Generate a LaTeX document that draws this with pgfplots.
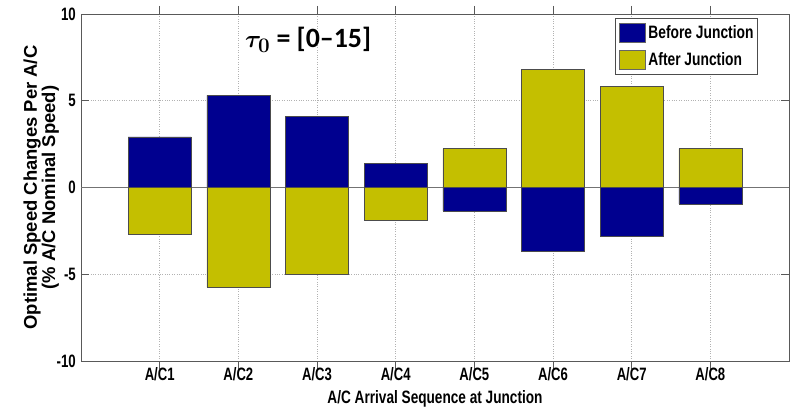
\documentclass[border=0pt]{standalone}
\usepackage{fontspec}
\setmainfont{Liberation Sans}
\newfontfamily\calib{Carlito}
\usepackage{pgfplots}
\pgfplotsset{compat=1.18}
\definecolor{mblue}{rgb}{0,0,0.56}
\definecolor{myell}{rgb}{0.77,0.75,0.0}
\newcommand{\nx}[1]{\scalebox{0.73}[1]{#1}}
\newcommand{\ny}[1]{\scalebox{0.74}[1]{#1}}
\begin{document}
\begin{tikzpicture}
\useasboundingbox (0,0) rectangle (797bp,407bp);
\begin{axis}[
  at={(81bp,46bp)}, anchor=south west,
  scale only axis, width=708bp, height=347bp,
  xmin=0, xmax=9, ymin=-10, ymax=10,
  xtick={1,2,3,4,5,6,7,8},
  xticklabels={\nx{A/C1},\nx{A/C2},\nx{A/C3},\nx{A/C4},\nx{A/C5},\nx{A/C6},\nx{A/C7},\nx{A/C8}},
  ytick={-10,-5,0,5,10},
  yticklabels={\ny{-10},\ny{-5},\ny{0},\ny{5},\ny{10}},
  tick align=inside, major tick length=8bp,
  tick style={black!65, line width=0.8pt},
  axis line style={black!65, line width=0.8pt},
  xmajorgrids, ymajorgrids,
  major grid style={black!30, dotted, line width=0.7pt},
  extra y ticks={0}, extra y tick labels={},
  extra y tick style={grid=major, major grid style={solid, black!55, line width=0.8pt}, tick style={draw=none}},
  xticklabel style={font=\fontsize{18}{18}\selectfont\bfseries, inner sep=0pt, yshift=2bp},
  yticklabel style={font=\fontsize{18}{18}\selectfont\bfseries, inner sep=0pt, xshift=-5bp},
  xlabel={\scalebox{0.76}[1]{A/C Arrival Sequence at Junction}},
  xlabel style={font=\fontsize{18}{18}\selectfont\bfseries, at={(axis description cs:0.5,-0.084)}, anchor=north, inner sep=0pt},
  ylabel={Optimal Speed Changes Per A/C\\(\% A/C Nominal Speed)},
  ylabel style={font=\fontsize{18.5}{16}\selectfont\bfseries, align=center, at={(axis description cs:-0.031,0.5)}, anchor=south, inner sep=0pt},
  ybar, bar width=0.8, bar shift=0pt,
  legend style={at={(axis description cs:0.956,0.988)}, anchor=north east,
    draw=black!70, line width=0.6pt,
    inner xsep=4bp, inner ysep=4.5bp, row sep=7.5bp, column sep=3bp,
    nodes={font=\fontsize{18}{18}\selectfont\bfseries, inner sep=0pt},
    cells={anchor=west}},
  legend image code/.code={\draw[#1, draw=black!60] (0bp,-9.5bp) rectangle (26bp,9.5bp);},
]
\addplot[fill=mblue, draw=black!70, line width=0.6pt] coordinates {
 (1,2.92) (2,5.31) (3,4.08) (4,1.41) (5,-1.35) (6,-3.65) (7,-2.83) (8,-0.94)};
\addlegendentry{\scalebox{0.77}[1]{Before Junction}}
\addplot[fill=myell, draw=black!70, line width=0.6pt] coordinates {
 (1,-2.68) (2,-5.76) (3,-5.0) (4,-1.91) (5,2.24) (6,6.8) (7,5.83) (8,2.24)};
\addlegendentry{\scalebox{0.77}[1]{After Junction}}
\node[anchor=west, inner sep=0pt] at (rel axis cs:0.2316,0.925)
  {\fontsize{28}{28}\selectfont{\boldmath$\tau_0$}\calib\bfseries{} = [0–15]};
\end{axis}
\end{tikzpicture}
\end{document}
